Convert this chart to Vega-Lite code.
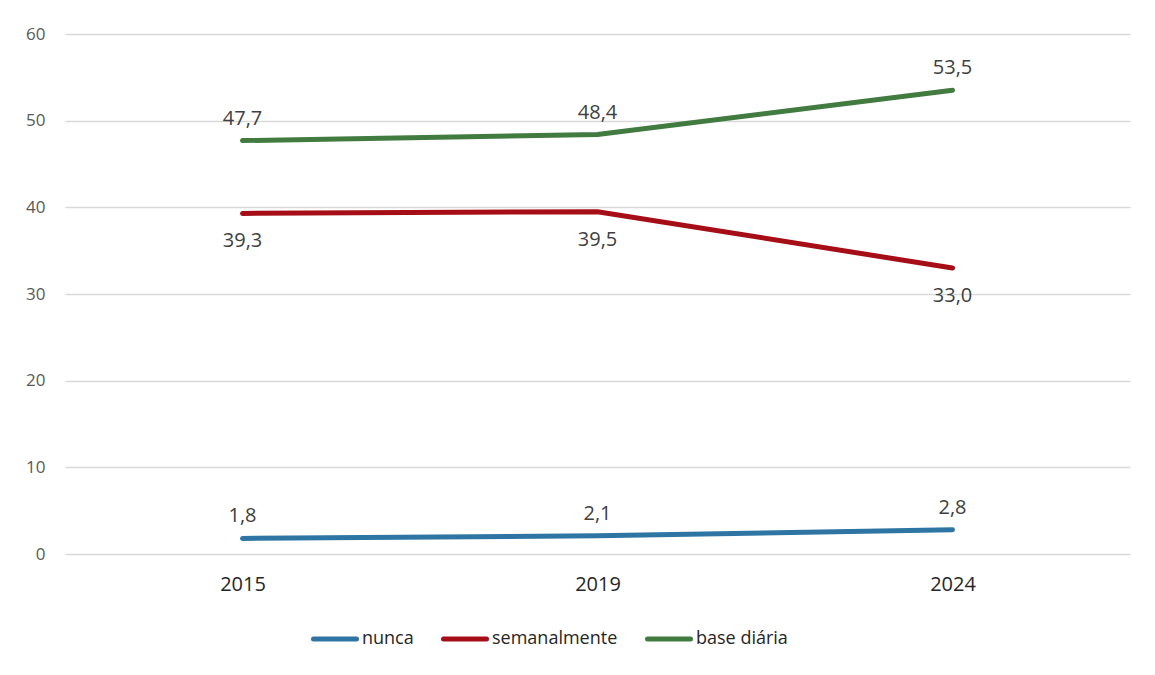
{
  "$schema": "https://vega.github.io/schema/vega-lite/v6.json",
  "width": 1065,
  "height": 520,
  "autosize": {"type": "none"},
  "padding": {"left": 65, "top": 34, "right": 25, "bottom": 121},
  "background": "white",
  "config": {
    "font": "Open Sans",
    "view": {"stroke": null},
    "locale": {
      "number": {"decimal": ",", "thousands": ".", "grouping": [3], "currency": ["", " €"]}
    }
  },
  "data": {
    "values": [
      {"ano": "2015", "serie": "nunca", "valor": 1.8},
      {"ano": "2019", "serie": "nunca", "valor": 2.1},
      {"ano": "2024", "serie": "nunca", "valor": 2.8},
      {"ano": "2015", "serie": "semanalmente", "valor": 39.3},
      {"ano": "2019", "serie": "semanalmente", "valor": 39.5},
      {"ano": "2024", "serie": "semanalmente", "valor": 33.0},
      {"ano": "2015", "serie": "base diária", "valor": 47.7},
      {"ano": "2019", "serie": "base diária", "valor": 48.4},
      {"ano": "2024", "serie": "base diária", "valor": 53.5}
    ]
  },
  "encoding": {
    "x": {
      "field": "ano", "type": "ordinal",
      "scale": {"type": "point", "padding": 0.5},
      "axis": {
        "title": null, "labelAngle": 0, "domain": false, "ticks": false,
        "labelFontSize": 20, "labelColor": "#262626", "labelPadding": 20
      }
    },
    "y": {
      "field": "valor", "type": "quantitative",
      "scale": {"domain": [0, 60]},
      "axis": {
        "title": null, "values": [0, 10, 20, 30, 40, 50, 60],
        "domain": false, "ticks": false,
        "labelFontSize": 17, "labelColor": "#595959", "labelPadding": 20,
        "gridColor": "#d9d9d9", "gridWidth": 1.5
      }
    }
  },
  "layer": [
    {
      "mark": {"type": "line", "strokeWidth": 5, "strokeCap": "round", "strokeJoin": "round"},
      "encoding": {
        "color": {
          "field": "serie", "type": "nominal",
          "scale": {
            "domain": ["nunca", "semanalmente", "base diária"],
            "range": ["#2E75A4", "#A50E16", "#417B40"]
          },
          "legend": {
            "title": null, "orient": "none", "legendX": 246, "legendY": 581,
            "direction": "horizontal",
            "symbolType": "stroke", "symbolSize": 1849, "symbolStrokeWidth": 5,
            "labelFontSize": 18, "labelColor": "#262626", "labelOffset": 3,
            "columnPadding": 19,
            "encode": {"symbols": {"update": {"strokeCap": {"value": "round"}}}}
          }
        }
      }
    },
    {
      "transform": [{"filter": "datum.serie !== 'semanalmente'"}],
      "mark": {"type": "text", "dy": -22, "fontSize": 20, "color": "#404040", "baseline": "middle"},
      "encoding": {"text": {"field": "valor", "type": "quantitative", "format": ".1f"}}
    },
    {
      "transform": [{"filter": "datum.serie === 'semanalmente'"}],
      "mark": {"type": "text", "dy": 28, "fontSize": 20, "color": "#404040", "baseline": "middle"},
      "encoding": {"text": {"field": "valor", "type": "quantitative", "format": ".1f"}}
    }
  ]
}
